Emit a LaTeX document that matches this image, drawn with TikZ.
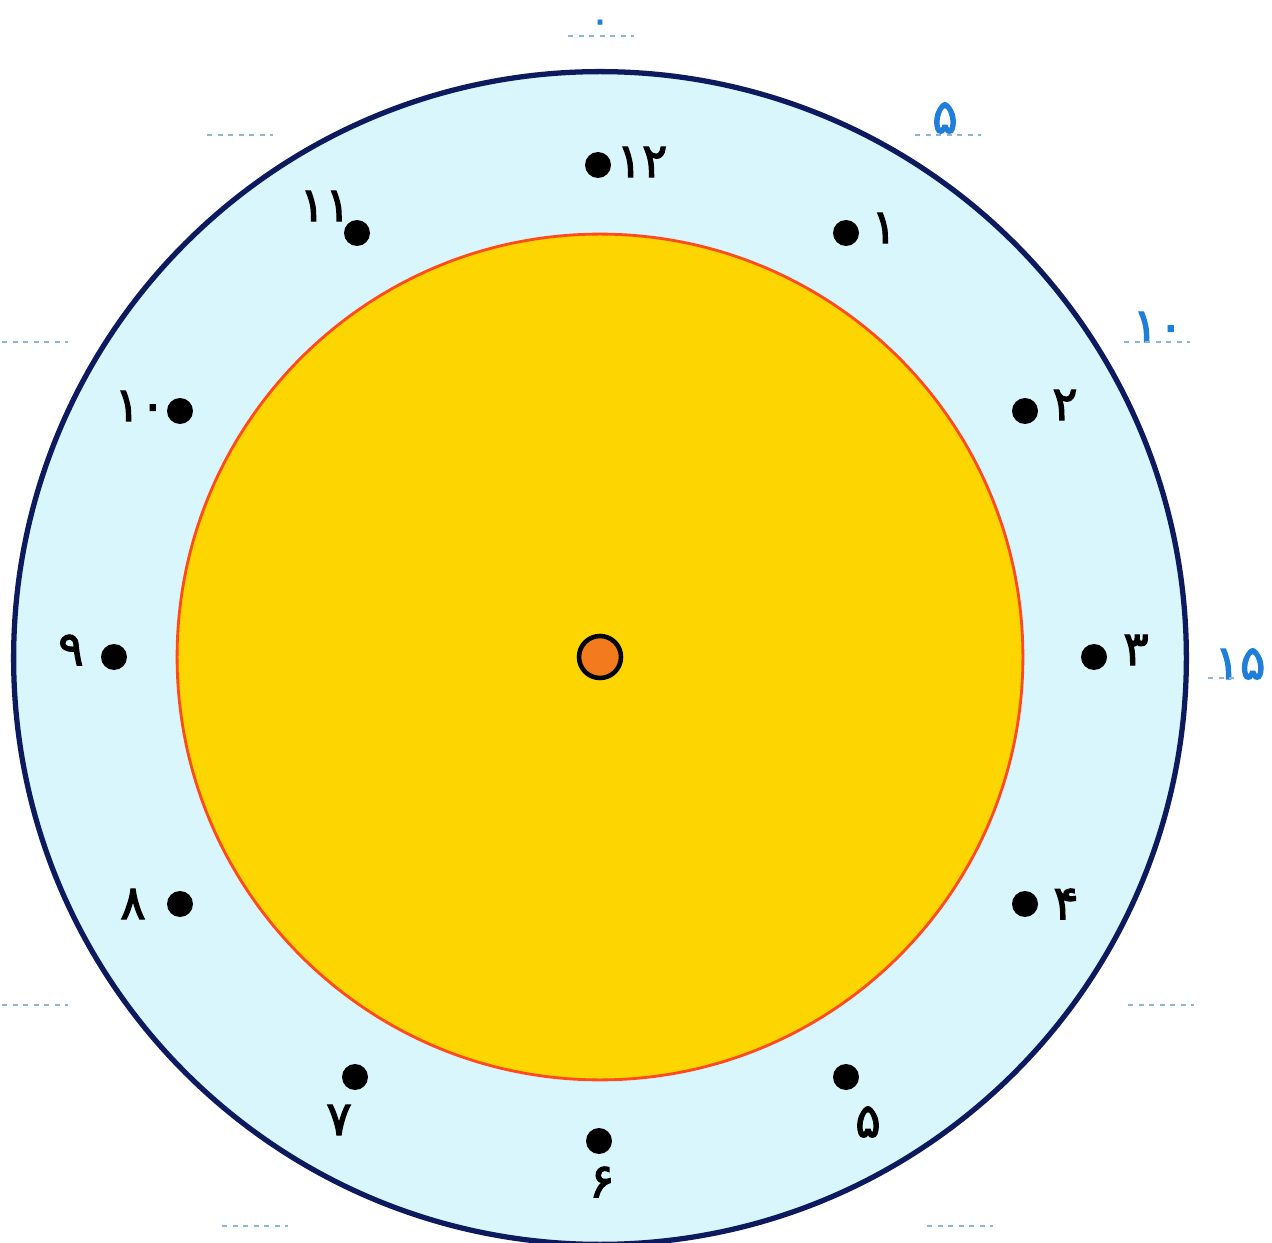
\documentclass[tikz,border=0pt]{standalone}
\usepackage{fontspec}
\newfontfamily\fa[FakeBold=2.5]{DejaVu Sans}
\definecolor{navy}{HTML}{0D1B5E}
\definecolor{ringfill}{HTML}{D8F6FB}
\definecolor{sun}{HTML}{FDD500}
\definecolor{sunedge}{HTML}{FF4A1C}
\definecolor{hub}{HTML}{F47A1E}
\definecolor{minblue}{HTML}{1F7FD8}
\definecolor{dashc}{HTML}{8FB6CC}
\tikzset{
  hourdot/.style={circle,fill=black,inner sep=0pt,minimum size=0.52cm},
  hourlbl/.style={inner sep=0pt,font=\fa\fontsize{27}{30}\selectfont,text=black},
  minlbl/.style={inner sep=0pt,font=\fa\fontsize{27}{30}\selectfont,text=minblue},
  blank/.style={draw=dashc,line width=1.1pt,dash pattern=on 3pt off 3pt}
}
\begin{document}
\begin{tikzpicture}[x=0.02cm,y=-0.02cm]
\useasboundingbox (0,0) rectangle (1272,1243);
\fill[white] (0,0) rectangle (1272,1243);
% rings
\node (face) at (600,658) [circle,draw=navy,line width=3pt,fill=ringfill,minimum size=23.46cm,inner sep=0pt] {};
\node (disc) at (600,657) [circle,draw=sunedge,line width=1.6pt,fill=sun,minimum size=16.92cm,inner sep=0pt] {};
\node (hubn) at (600,657) [circle,draw=black,line width=2.6pt,fill=hub,minimum size=0.84cm,inner sep=0pt] {};
% hour dots
\node[hourdot] (h12) at (598,165) {};
\node[hourdot] (h1) at (846,233) {};
\node[hourdot] (h2) at (1025,411) {};
\node[hourdot] (h3) at (1094,657) {};
\node[hourdot] (h4) at (1025,904) {};
\node[hourdot] (h5) at (846,1077) {};
\node[hourdot] (h6) at (599,1141) {};
\node[hourdot] (h7) at (355,1077) {};
\node[hourdot] (h8) at (180,904) {};
\node[hourdot] (h9) at (114,657) {};
\node[hourdot] (h10) at (180,411) {};
\node[hourdot] (h11) at (357,233) {};
% hour labels
\node[hourlbl] (l12) at (642,162) {۱۲};
\node[hourlbl] (l1) at (884,228) {۱};
\node[hourlbl] (l2) at (1065,405) {۲};
\node[hourlbl] (l3) at (1136,650) {۳};
\node[hourlbl] (l4) at (1066,904) {۴};
\node[hourlbl] (l5) at (868,1122) {۵};
\node[hourlbl] (l6) at (602,1182) {۶};
\node[hourlbl] (l7) at (339,1120) {۷};
\node[hourlbl] (l8) at (133,904) {۸};
\node[hourlbl] (l9) at (71,650) {۹};
\node[hourlbl] (l10) at (140,406) {۱۰};
\node[hourlbl] (l11) at (325,206) {۱۱};
% minute labels and blank slots
\node[minlbl,font=\fa\fontsize{20}{22}\selectfont] (m0) at (600,26) {۰};
\draw[blank] (568,36) -- (634,36);
\node[minlbl] (m5) at (945,118) {۵};
\draw[blank] (915,135) -- (981,135);
\node[minlbl] (m10) at (1158,327) {۱۰};
\draw[blank] (1124,342) -- (1190,342);
\node[minlbl] (m15) at (1240,664) {۱۵};
\draw[blank] (1208,678) -- (1236,678);
\draw[blank] (207,135) -- (273,135);
\draw[blank] (2,342) -- (68,342);
\draw[blank] (2,1005) -- (68,1005);
\draw[blank] (1128,1005) -- (1194,1005);
\draw[blank] (222,1226) -- (288,1226);
\draw[blank] (927,1226) -- (993,1226);
\end{tikzpicture}
\end{document}
